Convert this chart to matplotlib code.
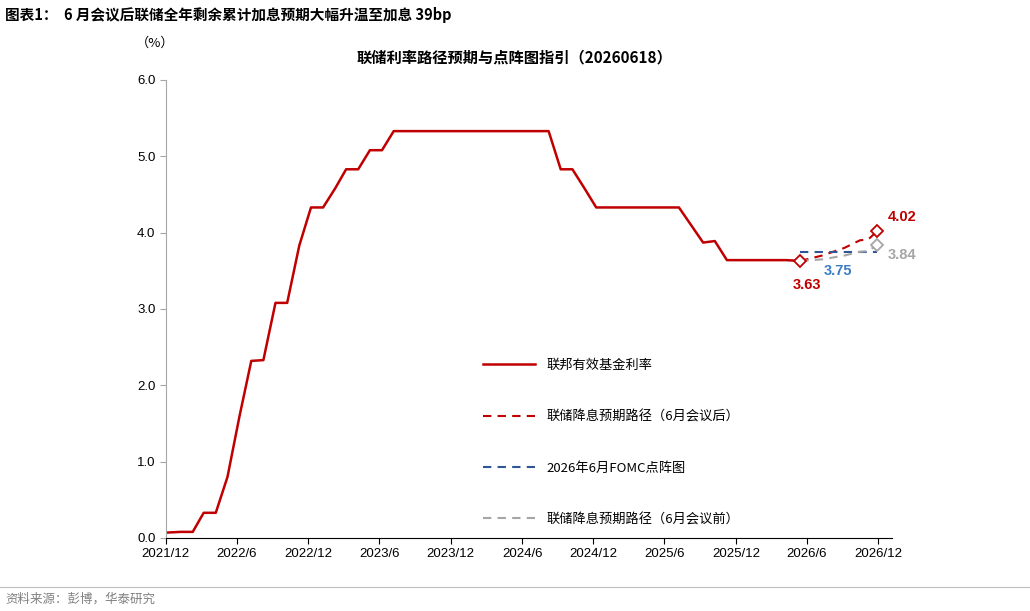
import matplotlib
matplotlib.use('Agg')
import matplotlib.pyplot as plt
import pandas as pd

plt.rcParams['font.family'] = ['Noto Sans CJK SC', 'DejaVu Sans']

hist_dates = ['2021-12-01'] + [d.strftime('%Y-%m-08') for d in pd.date_range('2022-01-01', '2026-04-01', freq='MS')] + ['2026-05-15']
hist_vals = [0.07,
             0.08, 0.08, 0.33, 0.33, 0.80, 1.60, 2.32, 2.33, 3.08, 3.08, 3.83, 4.33,
             4.33, 4.58, 4.83, 4.83, 5.08, 5.08, 5.33, 5.33, 5.33, 5.33, 5.33, 5.33,
             5.33, 5.33, 5.33, 5.33, 5.33, 5.33, 5.33, 5.33, 4.83, 4.83, 4.58, 4.33,
             4.33, 4.33, 4.33, 4.33, 4.33, 4.33, 4.33, 4.10, 3.87, 3.89, 3.64, 3.64,
             3.64, 3.64, 3.64, 3.64,
             3.63]
proj_dates = ['2026-05-15', '2026-07-10', '2026-09-05', '2026-10-15', '2026-11-05', '2026-11-28']
after_vals = [3.63, 3.70, 3.80, 3.90, 3.91, 4.02]
before_vals = [3.63, 3.65, 3.70, 3.75, 3.76, 3.84]
fomc_dates = ['2026-05-15', '2026-11-28']
fomc_vals = [3.75, 3.75]
xtick_labels = ['2021/12', '2022/6', '2022/12', '2023/6', '2023/12', '2024/6', '2024/12',
                '2025/6', '2025/12', '2026/6', '2026/12']

hd = pd.to_datetime(hist_dates); pdd = pd.to_datetime(proj_dates); fd = pd.to_datetime(fomc_dates)
red = '#C00000'; blue = '#2F5597'; gray = '#A6A6A6'
num = ['Liberation Sans', 'DejaVu Sans']

fig = plt.figure(figsize=(10.3, 6.11), dpi=100)
ax = fig.add_axes([0.161, 0.1195, 0.705, 0.7496])
ax.plot(hd, hist_vals, color=red, lw=1.8, label='联邦有效基金利率')
ax.plot(pdd, after_vals, color=red, lw=1.5, ls=(0, (4, 3)), label='联储降息预期路径（6月会议后）')
ax.plot(fd, fomc_vals, color=blue, lw=1.5, ls=(0, (4, 3)), label='2026年6月FOMC点阵图')
ax.plot(pdd, before_vals, color=gray, lw=1.5, ls=(0, (4, 3)), label='联储降息预期路径（6月会议前）')
ax.plot(pdd[0], after_vals[0], marker='D', ms=6, mfc='white', mec=red, mew=1.3)
ax.plot(pdd[-1], after_vals[-1], marker='D', ms=6, mfc='white', mec=red, mew=1.3)
ax.plot(pdd[-1], before_vals[-1], marker='D', ms=6, mfc='white', mec=gray, mew=1.3)
ax.annotate(f'{after_vals[0]:.2f}', (pdd[0], after_vals[0]), xytext=(5, -17), textcoords='offset points', ha='center', va='center', color=red, fontweight='bold', fontsize=10.5, family=num)
ax.annotate(f'{after_vals[-1]:.2f}', (pdd[-1], after_vals[-1]), xytext=(18, 10), textcoords='offset points', ha='center', va='center', color=red, fontweight='bold', fontsize=10.5, family=num)
ax.annotate(f'{before_vals[-1]:.2f}', (pdd[-1], before_vals[-1]), xytext=(18, -7), textcoords='offset points', ha='center', va='center', color=gray, fontweight='bold', fontsize=10.5, family=num)
ax.annotate(f'{fomc_vals[0]:.2f}', (pd.Timestamp('2026-08-20'), fomc_vals[0]), xytext=(0, -14), textcoords='offset points', ha='center', va='center', color='#3B7DC4', fontweight='bold', fontsize=10.5, family=num)

ticks = [pd.Timestamp(s.replace('/', '-') + '-01') for s in xtick_labels]
ax.set_xticks(ticks); ax.set_xticklabels(xtick_labels, fontsize=9.5, family=num)
ax.set_xlim(pd.Timestamp('2021-12-01'), pd.Timestamp('2027-01-05'))
ax.set_ylim(0, 6)
ax.set_yticks([0, 1, 2, 3, 4, 5, 6])
ax.set_yticklabels([f'{v:.1f}' for v in range(7)], fontsize=9.5, family=num)
for s in ['top', 'right']:
    ax.spines[s].set_visible(False)
ax.spines['left'].set_color('#A6A6A6')
ax.spines['bottom'].set_color('black')
ax.tick_params(axis='y', color='#A6A6A6', length=4)
ax.tick_params(axis='x', length=4)
ax.legend(loc='lower left', bbox_to_anchor=(0.42, 0.0), frameon=False, fontsize=9.5,
          handlelength=4, labelspacing=2.9)
fig.text(0.5, 0.898, '联储利率路径预期与点阵图指引（20260618）', ha='center', fontsize=11, fontweight='bold')
fig.text(0.132, 0.923, '（%）', fontsize=9.5)
fig.text(0.005, 0.975, '图表1：  6 月会议后联储全年剩余累计加息预期大幅升温至加息 39bp', fontsize=10.5, fontweight='bold', va='center')
fig.add_artist(plt.Line2D([0, 1], [0.04, 0.04], color='#BFBFBF', lw=0.8))
fig.text(0.005, 0.02, '资料来源：彭博，华泰研究', fontsize=9, color='#808080', va='center')
fig.savefig('out.png', dpi=100)
